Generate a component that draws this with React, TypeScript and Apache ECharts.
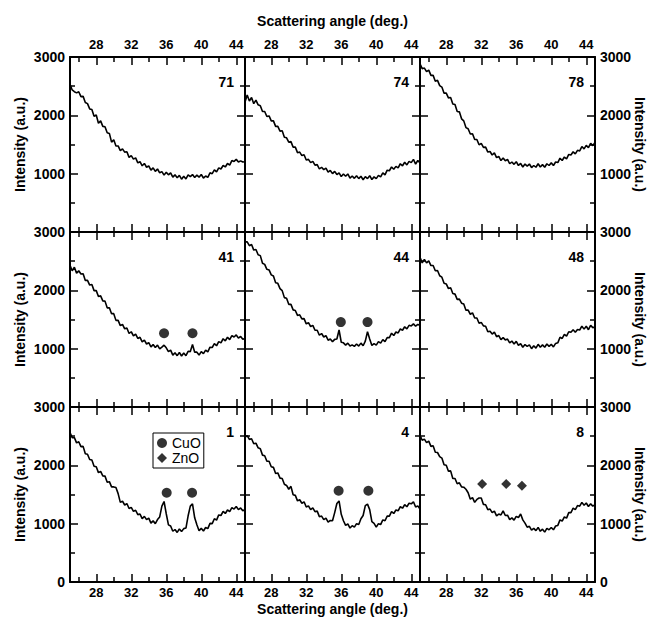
import React, { useEffect, useRef } from 'react';
import * as echarts from 'echarts';

// ---- data ----
const ANGLE_START = 25;
const ANGLE_STEP = 0.25;
const X_MIN = 25;
const X_MAX = 45;
const X_TICKS = [28, 32, 36, 40, 44];
const X_MINOR_TICKS = [26, 30, 34, 38, 42];
const Y_MIN = 0;
const Y_MAX = 3000;
const Y_STEP = 1000;

const PANEL_LABELS = ['71', '74', '78', '41', '44', '48', '1', '4', '8'];

const s71 = [
  2530, 2435, 2405, 2385, 2405, 2320, 2325, 2220, 2200, 2110,
  2100, 1985, 2005, 1865, 1905, 1810, 1805, 1700, 1690, 1540,
  1580, 1475, 1475, 1395, 1425, 1370, 1375, 1280, 1310, 1250,
  1270, 1185, 1205, 1135, 1175, 1110, 1135, 1060, 1100, 1040,
  1080, 1015, 1035, 975, 1025, 980, 1015, 940, 980, 930,
  970, 905, 955, 910, 980, 950, 985, 935, 975, 940,
  985, 925, 960, 935, 1015, 1000, 1065, 1030, 1100, 1080,
  1140, 1115, 1175, 1145, 1225, 1210, 1245, 1200, 1220, 1200,
  1205,
];
const s74 = [
  2230, 2350, 2245, 2305, 2200, 2260, 2180, 2165, 2065, 2065,
  1980, 1990, 1905, 1905, 1810, 1810, 1730, 1735, 1625, 1615,
  1540, 1550, 1455, 1455, 1360, 1370, 1310, 1325, 1235, 1245,
  1190, 1210, 1145, 1155, 1080, 1110, 1070, 1095, 1025, 1055,
  1000, 1040, 985, 1015, 950, 995, 955, 995, 925, 960,
  920, 965, 915, 955, 895, 950, 915, 965, 900, 945,
  915, 970, 945, 1015, 980, 1060, 1050, 1115, 1075, 1125,
  1100, 1170, 1135, 1195, 1150, 1210, 1190, 1245, 1165, 1225,
  1185,
];
const s78 = [
  2885, 2800, 2810, 2750, 2775, 2685, 2685, 2585, 2600, 2510,
  2485, 2380, 2380, 2300, 2305, 2195, 2185, 2065, 2060, 1940,
  1905, 1790, 1770, 1680, 1685, 1585, 1585, 1495, 1520, 1450,
  1455, 1370, 1380, 1320, 1355, 1275, 1295, 1225, 1270, 1220,
  1245, 1170, 1200, 1160, 1205, 1140, 1175, 1115, 1165, 1130,
  1165, 1105, 1140, 1110, 1170, 1115, 1155, 1110, 1170, 1140,
  1185, 1140, 1200, 1190, 1265, 1225, 1285, 1255, 1330, 1320,
  1375, 1340, 1400, 1390, 1465, 1425, 1485, 1445, 1520, 1480,
  1535,
];
const s41 = [
  2430, 2335, 2395, 2295, 2335, 2280, 2285, 2170, 2170, 2090,
  2100, 1995, 1995, 1895, 1905, 1820, 1815, 1700, 1700, 1600,
  1600, 1485, 1485, 1395, 1415, 1340, 1355, 1260, 1290, 1220,
  1250, 1175, 1195, 1115, 1145, 1080, 1105, 1030, 1070, 1020,
  1060, 995, 1025, 1060, 1015, 950, 975, 890, 930, 880,
  935, 875, 925, 880, 955, 950, 1070, 940, 940, 890,
  950, 915, 975, 945, 1025, 1020, 1085, 1050, 1120, 1100,
  1170, 1135, 1195, 1155, 1225, 1200, 1235, 1180, 1210, 1160,
  1175,
];
const s44 = [
  2830, 2830, 2765, 2785, 2690, 2700, 2610, 2595, 2465, 2445,
  2360, 2350, 2265, 2245, 2130, 2120, 2030, 1995, 1875, 1865,
  1760, 1760, 1665, 1655, 1570, 1580, 1510, 1515, 1425, 1445,
  1380, 1400, 1315, 1315, 1230, 1260, 1200, 1225, 1145, 1165,
  1120, 1160, 1165, 1320, 1110, 1100, 1060, 1095, 1045, 1065,
  1040, 1080, 1045, 1095, 1050, 1130, 1290, 1165, 1055, 1085,
  1060, 1120, 1095, 1155, 1120, 1190, 1190, 1265, 1225, 1285,
  1270, 1340, 1315, 1375, 1340, 1400, 1390, 1425, 1385, 1415,
  1400,
];
const s48 = [
  2565, 2470, 2530, 2470, 2505, 2425, 2425, 2335, 2340, 2250,
  2225, 2120, 2110, 2030, 2045, 1945, 1935, 1845, 1850, 1780,
  1765, 1660, 1660, 1590, 1615, 1525, 1525, 1435, 1450, 1390,
  1385, 1290, 1300, 1250, 1285, 1205, 1225, 1155, 1190, 1150,
  1165, 1100, 1130, 1080, 1125, 1055, 1085, 1025, 1070, 1040,
  1065, 1000, 1050, 1010, 1075, 1025, 1065, 1025, 1080, 1040,
  1075, 1030, 1090, 1100, 1195, 1175, 1245, 1215, 1290, 1280,
  1325, 1280, 1330, 1320, 1385, 1335, 1385, 1325, 1400, 1360,
  1375,
];
const s1 = [
  2560, 2475, 2475, 2385, 2405, 2320, 2325, 2200, 2190, 2100,
  2090, 1985, 1975, 1875, 1895, 1820, 1815, 1710, 1720, 1630,
  1630, 1620, 1515, 1365, 1385, 1320, 1345, 1260, 1280, 1210,
  1230, 1155, 1165, 1085, 1125, 1070, 1095, 1010, 1050, 1000,
  1070, 1115, 1300, 1380, 1170, 980, 960, 870, 900, 850,
  910, 865, 915, 925, 1135, 1300, 1340, 1100, 980, 880,
  920, 875, 935, 915, 1005, 1000, 1085, 1060, 1150, 1140,
  1210, 1175, 1235, 1205, 1275, 1250, 1295, 1240, 1270, 1220,
  1245,
];
const s4 = [
  2480, 2510, 2445, 2455, 2370, 2380, 2300, 2285, 2175, 2165,
  2070, 2070, 1975, 1965, 1860, 1870, 1780, 1775, 1675, 1655,
  1590, 1640, 1495, 1485, 1390, 1410, 1350, 1375, 1285, 1305,
  1240, 1270, 1205, 1215, 1120, 1130, 1070, 1095, 1025, 1055,
  1050, 1190, 1345, 1390, 1160, 1050, 970, 995, 925, 965,
  940, 1000, 985, 1085, 1140, 1310, 1335, 1240, 1035, 1005,
  940, 1000, 985, 1065, 1050, 1130, 1130, 1205, 1175, 1235,
  1220, 1290, 1265, 1325, 1290, 1350, 1340, 1375, 1285, 1305,
  1250,
];
const s8 = [
  2515, 2430, 2450, 2390, 2415, 2325, 2335, 2225, 2220, 2150,
  2125, 2010, 2000, 1900, 1905, 1775, 1775, 1685, 1700, 1630,
  1625, 1590, 1530, 1420, 1445, 1365, 1415, 1440, 1440, 1330,
  1325, 1240, 1250, 1190, 1215, 1135, 1165, 1150, 1220, 1140,
  1145, 1070, 1100, 1060, 1125, 1105, 1165, 1065, 1010, 940,
  955, 890, 920, 880, 935, 870, 905, 855, 920, 895,
  935, 895, 960, 970, 1065, 1045, 1115, 1095, 1190, 1190,
  1265, 1240, 1310, 1300, 1365, 1315, 1355, 1295, 1340, 1300,
  1325,
];

const PANEL_SERIES = [s71, s74, s78, s41, s44, s48, s1, s4, s8];

// peak markers [angle, intensity]
const CUO_41 = [[35.75, 1265], [39.0, 1265]];
const CUO_44 = [[35.95, 1455], [39.0, 1455]];
const CUO_1 = [[36.05, 1530], [38.95, 1530]];
const CUO_4 = [[35.7, 1565], [39.1, 1565]];
const ZNO_8 = [[32.1, 1680], [34.85, 1680], [36.65, 1650]];

const CUO_MARKERS: { panel: number; pts: number[][] }[] = [
  { panel: 3, pts: CUO_41 },
  { panel: 4, pts: CUO_44 },
  { panel: 6, pts: CUO_1 },
  { panel: 7, pts: CUO_4 },
];
const ZNO_MARKERS: { panel: number; pts: number[][] }[] = [{ panel: 8, pts: ZNO_8 }];

// ---- layout ----
const LEFT = 70;
const TOP = 57;
const SIZE = 175;
const FONT = '"Liberation Sans", Arial, Helvetica, sans-serif';

function buildOption() {
  const grids: any[] = [];
  const xAxes: any[] = [];
  const yAxes: any[] = [];
  const series: any[] = [];
  const graphics: any[] = [];

  const labelFont = { fontFamily: FONT, fontWeight: 'bold', fontSize: 13, color: '#000' };
  const lineStyle = { color: '#000', width: 2 };
  const tickStyle = { color: '#000', width: 1.5 };

  for (let r = 0; r < 3; r++) {
    for (let c = 0; c < 3; c++) {
      const idx = r * 3 + c;
      grids.push({ left: LEFT + SIZE * c, top: TOP + SIZE * r, width: SIZE, height: SIZE });

      const baseX = { gridIndex: idx, type: 'value', min: X_MIN, max: X_MAX, splitLine: { show: false } };
      xAxes.push({
        ...baseX,
        position: 'bottom',
        axisLine: { show: true, onZero: false, lineStyle },
        axisTick: { show: true, inside: true, length: 8, customValues: X_TICKS, lineStyle: tickStyle },
        axisLabel: { show: r === 2, customValues: X_TICKS, margin: 4, ...labelFont },
      });
      xAxes.push({
        ...baseX,
        position: 'top',
        axisLine: { show: true, onZero: false, lineStyle },
        axisTick: { show: true, inside: true, length: 8, customValues: X_TICKS, lineStyle: tickStyle },
        axisLabel: { show: r === 0, customValues: X_TICKS, margin: 6, ...labelFont },
      });
      xAxes.push({
        ...baseX,
        position: 'bottom',
        axisLine: { show: false, onZero: false },
        axisTick: { show: true, inside: true, length: 5, customValues: X_MINOR_TICKS, lineStyle: tickStyle },
        axisLabel: { show: false, customValues: X_MINOR_TICKS },
      });
      xAxes.push({
        ...baseX,
        position: 'top',
        axisLine: { show: false, onZero: false },
        axisTick: { show: true, inside: true, length: 5, customValues: X_MINOR_TICKS, lineStyle: tickStyle },
        axisLabel: { show: false, customValues: X_MINOR_TICKS },
      });

      const yFormatter = (v: number) => (v === 0 && r < 2 ? '' : String(v));
      const baseY = {
        gridIndex: idx,
        type: 'value',
        min: Y_MIN,
        max: Y_MAX,
        interval: Y_STEP,
        splitLine: { show: false },
        minorSplitLine: { show: false },
        axisLine: { show: true, onZero: false, lineStyle },
        axisTick: { show: true, inside: true, length: 8, lineStyle: tickStyle },
        minorTick: { show: true, splitNumber: 2, length: 5, lineStyle: tickStyle },
      };
      yAxes.push({
        ...baseY,
        position: 'left',
        axisLabel: { show: c === 0, margin: 5, formatter: yFormatter, ...labelFont, fontSize: 14 },
      });
      yAxes.push({
        ...baseY,
        position: 'right',
        axisLabel: { show: c === 2, margin: 5, formatter: yFormatter, ...labelFont, fontSize: 14 },
      });

      const vals = PANEL_SERIES[idx];
      series.push({
        name: PANEL_LABELS[idx],
        type: 'line',
        xAxisIndex: idx * 4,
        yAxisIndex: idx * 2,
        data: vals.map((v, i) => [ANGLE_START + i * ANGLE_STEP, v]),
        showSymbol: false,
        symbol: 'none',
        lineStyle: { color: '#000', width: 1.6 },
        itemStyle: { color: '#000' },
        clip: true,
      });

      graphics.push({
        type: 'text',
        x: LEFT + SIZE * (c + 1) - 11,
        y: TOP + SIZE * r + 25,
        style: {
          text: PANEL_LABELS[idx],
          fill: '#000',
          fontFamily: FONT,
          fontWeight: 'bold',
          fontSize: 14,
          align: 'right',
          textAlign: 'right',
          verticalAlign: 'middle',
          textVerticalAlign: 'middle',
        },
      });
    }

    const cy = TOP + SIZE * r + SIZE / 2;
    const titleStyle = {
      text: 'Intensity (a.u.)',
      fill: '#000',
      fontFamily: FONT,
      fontWeight: 'bold',
      fontSize: 14,
      align: 'center',
      textAlign: 'center',
      verticalAlign: 'middle',
      textVerticalAlign: 'middle',
    };
    graphics.push({ type: 'text', x: 20, y: cy, rotation: Math.PI / 2, style: titleStyle });
    graphics.push({ type: 'text', x: 640, y: cy, rotation: -Math.PI / 2, style: titleStyle });
  }

  const xTitleStyle = {
    text: 'Scattering angle (deg.)',
    fill: '#000',
    fontFamily: FONT,
    fontWeight: 'bold',
    fontSize: 14,
    align: 'center',
    textAlign: 'center',
    verticalAlign: 'middle',
    textVerticalAlign: 'middle',
  };
  graphics.push({ type: 'text', x: LEFT + SIZE * 1.5, y: 21, style: xTitleStyle });
  graphics.push({ type: 'text', x: LEFT + SIZE * 1.5, y: 609, style: xTitleStyle });

  CUO_MARKERS.forEach((m) => {
    series.push({
      name: 'CuO',
      type: 'scatter',
      xAxisIndex: m.panel * 4,
      yAxisIndex: m.panel * 2,
      data: m.pts,
      symbol: 'circle',
      symbolSize: 10,
      itemStyle: { color: '#000' },
    });
  });
  ZNO_MARKERS.forEach((m) => {
    series.push({
      name: 'ZnO',
      type: 'scatter',
      xAxisIndex: m.panel * 4,
      yAxisIndex: m.panel * 2,
      data: m.pts,
      symbol: 'diamond',
      symbolSize: 10,
      itemStyle: { color: '#000' },
    });
  });

  return {
    animation: false,
    backgroundColor: '#fff',
    grid: grids,
    xAxis: xAxes,
    yAxis: yAxes,
    series,
    graphic: graphics,
    legend: {
      data: [
        { name: 'CuO', icon: 'circle' },
        { name: 'ZnO', icon: 'diamond' },
      ],
      orient: 'vertical',
      left: 153,
      top: 433,
      itemWidth: 10,
      itemHeight: 10,
      itemGap: 1,
      padding: [3, 3, 3, 4],
      borderColor: '#000',
      borderWidth: 1,
      backgroundColor: '#fff',
      selectedMode: false,
      textStyle: { fontFamily: FONT, fontSize: 14, color: '#000' },
    },
  };
}

export default function App() {
  const ref = useRef<HTMLDivElement>(null);
  useEffect(() => {
    if (!ref.current) return;
    const chart = echarts.init(ref.current, undefined, { renderer: 'svg' });
    chart.setOption(buildOption() as any);
    return () => chart.dispose();
  }, []);
  return (
    <div
      ref={ref}
      style={{ position: 'absolute', left: 0, top: 0, width: 651, height: 617, background: '#fff' }}
    />
  );
}
